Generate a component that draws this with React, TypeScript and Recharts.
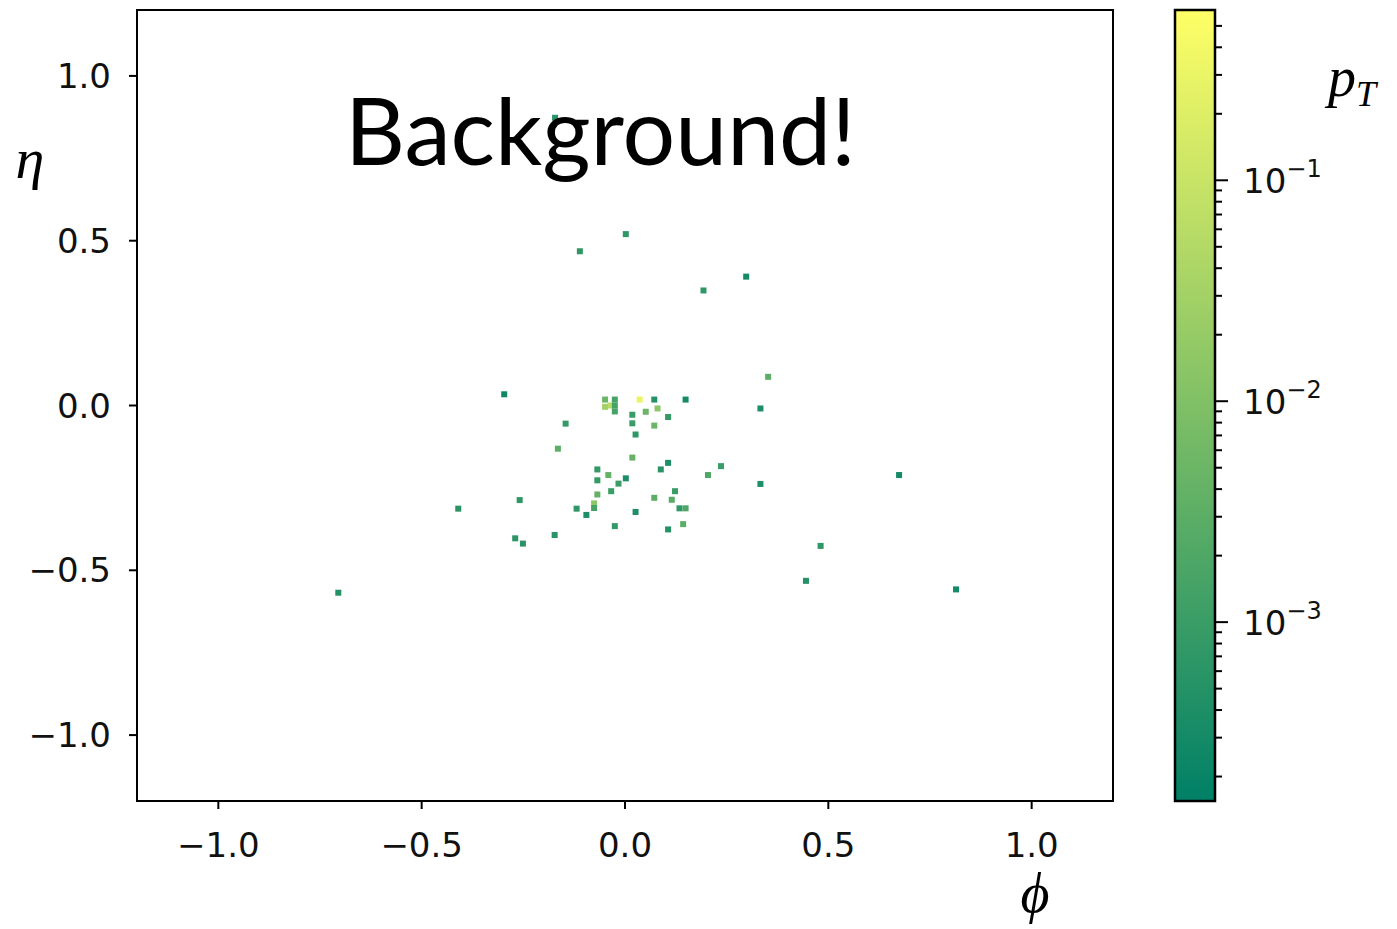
import React from "react";
import {
  ScatterChart,
  ComposedChart,
  Scatter,
  XAxis,
  YAxis,
  ReferenceArea,
} from "recharts";

// ── data: calorimeter cells (phi, eta, pT) ──────────────────────

const PHI = [
  -0.297, -0.049, -0.049, -0.035, -0.025, -0.025, -0.025, 0.036, 0.072, 0.149,
  0.018, 0.051, 0.08, 0.106, 0.018, 0.072, 0.026, -0.146, -0.165, 0.018,
  0.106, 0.088, -0.068, -0.041, -0.068, 0.002, -0.016, -0.034, -0.068, -0.076,
  -0.076, -0.095, -0.119, 0.026, 0.072, 0.115, 0.123, 0.134, 0.149, 0.143,
  0.106, -0.025, 0.236, 0.204, 0.333, 0.333, 0.352, 0.674, 0.481, 0.445,
  0.814, -0.259, -0.41, -0.173, -0.27, -0.251, -0.705, -0.172, 0.002, -0.111,
  0.298, 0.193,
];

const ETA = [
  0.034, 0.018, -0.004, 0.0, 0.018, 0.0, -0.018, 0.018, 0.018, 0.018,
  -0.028, -0.019, -0.009, -0.035, -0.054, -0.061, -0.088, -0.055, -0.131, -0.158,
  -0.174, -0.194, -0.194, -0.211, -0.227, -0.221, -0.237, -0.26, -0.27, -0.297,
  -0.311, -0.332, -0.313, -0.323, -0.28, -0.286, -0.26, -0.312, -0.312, -0.36,
  -0.376, -0.366, -0.184, -0.211, -0.009, -0.238, 0.087, -0.211, -0.426, -0.532,
  -0.558, -0.287, -0.313, -0.393, -0.403, -0.419, -0.568, 0.873, 0.52, 0.468,
  0.391, 0.349,
];

const PT = [
  2.5e-4, 5e-3, 3e-2, 6e-2, 1.5e-3, 1.5e-3, 1.5e-3, 3e-1, 5e-4, 3e-4,
  1e-3, 5e-3, 1.5e-2, 8e-4, 1e-3, 5e-3, 7e-4, 8e-4, 3e-3, 4e-3,
  4e-4, 6e-4, 8e-4, 4e-3, 8e-4, 4e-4, 1e-3, 1e-3, 4e-3, 1.5e-2,
  1.5e-3, 4e-4, 7e-4, 4e-4, 3e-3, 2.5e-3, 1e-3, 7e-4, 2e-3, 3e-3,
  5e-4, 8e-4, 1e-3, 2e-3, 4e-4, 4e-4, 3e-3, 3e-4, 7e-4, 5e-4,
  3e-4, 7e-4, 6e-4, 6e-4, 6e-4, 6e-4, 5e-4, 6e-4, 7e-4, 7e-4,
  3e-4, 7e-4,
];

const AXIS_TICKS = [-1, -0.5, 0, 0.5, 1];
const CB_MAJOR = [1e-3, 1e-2, 1e-1];
const CB_MINOR = [
  2e-4, 3e-4, 4e-4, 5e-4, 6e-4, 7e-4, 8e-4, 9e-4,
  2e-3, 3e-3, 4e-3, 5e-3, 6e-3, 7e-3, 8e-3, 9e-3,
  2e-2, 3e-2, 4e-2, 5e-2, 6e-2, 7e-2, 8e-2, 9e-2,
  2e-1, 3e-1, 4e-1, 5e-1,
];
const PT_MIN = 1.55e-4;
const PT_MAX = 0.59;

const cells = PHI.map((phi, i) => ({ phi, eta: ETA[i], pt: PT[i] }));

// matplotlib "summer" colormap on a log norm
function summer(pt: number) {
  const lo = Math.log10(PT_MIN);
  const hi = Math.log10(PT_MAX);
  const t = Math.min(1, Math.max(0, (Math.log10(pt) - lo) / (hi - lo)));
  const r = Math.round(255 * t);
  const g = Math.round(255 * (0.5 + 0.5 * t));
  return `rgb(${r},${g},102)`;
}

const fmt = (v: number) =>
  v < 0 ? "\u2212" + Math.abs(v).toFixed(1) : v.toFixed(1);

const tickStyle = { fill: "#111", fontSize: 34, fontFamily: "DejaVu Sans" };

function CellShape(props: any) {
  const { cx, cy, payload } = props;
  return (
    <rect x={cx - 3} y={cy - 3} width={6} height={6} fill={summer(payload.pt)} />
  );
}

function CbTick(props: any) {
  const { x, y, payload } = props;
  const v = payload.value;
  const major = CB_MAJOR.some((m) => Math.abs(m - v) / m < 1e-6);
  const exp = Math.round(Math.log10(v));
  return (
    <g>
      <line x1={x} x2={x + (major ? 13 : 7)} y1={y} y2={y} stroke="#000" strokeWidth={2} />
      {major && (
        <text x={x + 28} y={y} dy={13} fontSize={34} fontFamily="DejaVu Sans" fill="#111">
          10
          <tspan dy={-16} fontSize={24}>
            {"\u2212" + Math.abs(exp)}
          </tspan>
        </text>
      )}
    </g>
  );
}

export default function App() {
  return (
    <div style={{ position: "fixed", left: 0, top: 0, width: 1397, height: 929, background: "#fff" }}>
      <div style={{ position: "absolute", left: 0, top: 0 }}>
        <ScatterChart width={1130} height={929} margin={{ top: 10, right: 17, left: 0, bottom: 68 }}>
          <XAxis
            type="number"
            dataKey="phi"
            domain={[-1.2, 1.2]}
            ticks={AXIS_TICKS}
            tickFormatter={fmt}
            allowDataOverflow
            height={60}
            tick={tickStyle}
            tickSize={8}
            tickMargin={24}
            tickLine={{ stroke: "#000", strokeWidth: 2 }}
            axisLine={false}
          />
          <YAxis
            type="number"
            dataKey="eta"
            domain={[-1.2, 1.2]}
            ticks={AXIS_TICKS}
            tickFormatter={fmt}
            allowDataOverflow
            width={137}
            tick={tickStyle}
            tickSize={8}
            tickMargin={18}
            tickLine={{ stroke: "#000", strokeWidth: 2 }}
            axisLine={false}
          />
          <ReferenceArea
            x1={-1.2}
            x2={1.2}
            y1={-1.2}
            y2={1.2}
            fill="none"
            stroke="#000"
            strokeWidth={2}
            ifOverflow="visible"
          />
          <Scatter data={cells} shape={<CellShape />} isAnimationActive={false} />
        </ScatterChart>
      </div>

      <div style={{ position: "absolute", left: 1100, top: 0 }}>
        <ComposedChart width={297} height={929} margin={{ top: 10, right: 62, left: 75, bottom: 128 }}>
          <defs>
            <linearGradient id="cbGrad" x1="0" y1="1" x2="0" y2="0">
              <stop offset="0%" stopColor="rgb(0,128,102)" />
              <stop offset="100%" stopColor="rgb(255,255,102)" />
            </linearGradient>
          </defs>
          <XAxis type="number" dataKey="x" domain={[0, 1]} hide />
          <YAxis
            type="number"
            dataKey="v"
            orientation="right"
            scale="log"
            domain={[PT_MIN, PT_MAX]}
            allowDataOverflow
            ticks={[...CB_MINOR, ...CB_MAJOR].sort((a, b) => a - b)}
            interval={0}
            width={120}
            tickSize={0}
            tickMargin={0}
            tickLine={false}
            axisLine={false}
            tick={<CbTick />}
          />
          <ReferenceArea
            x1={0}
            x2={1}
            y1={PT_MIN}
            y2={PT_MAX}
            fill="url(#cbGrad)"
            fillOpacity={1}
            stroke="#000"
            strokeWidth={2.5}
            ifOverflow="visible"
          />
          <Scatter data={[{ x: 0.5, v: 0.01 }]} shape={() => null} isAnimationActive={false} />
        </ComposedChart>
      </div>

      <svg
        width={1397}
        height={929}
        style={{ position: "absolute", left: 0, top: 0, pointerEvents: "none" }}
      >
        <text x={345} y={165} fontSize={93} fontFamily="Lato" fill="#000">
          Background!
        </text>
        <text x={30} y={178} textAnchor="middle" fontSize={58} fontStyle="italic" fontFamily="Liberation Serif" fill="#000">
          η
        </text>
        <text x={1035} y={912} textAnchor="middle" fontSize={56} fontStyle="italic" fontFamily="Liberation Serif" fill="#000">
          ϕ
        </text>
        <text x={1328} y={96} fontSize={56} fontStyle="italic" fontFamily="Liberation Serif" fill="#000">
          p
          <tspan dy={10} fontSize={36}>T</tspan>
        </text>
      </svg>
    </div>
  );
}
